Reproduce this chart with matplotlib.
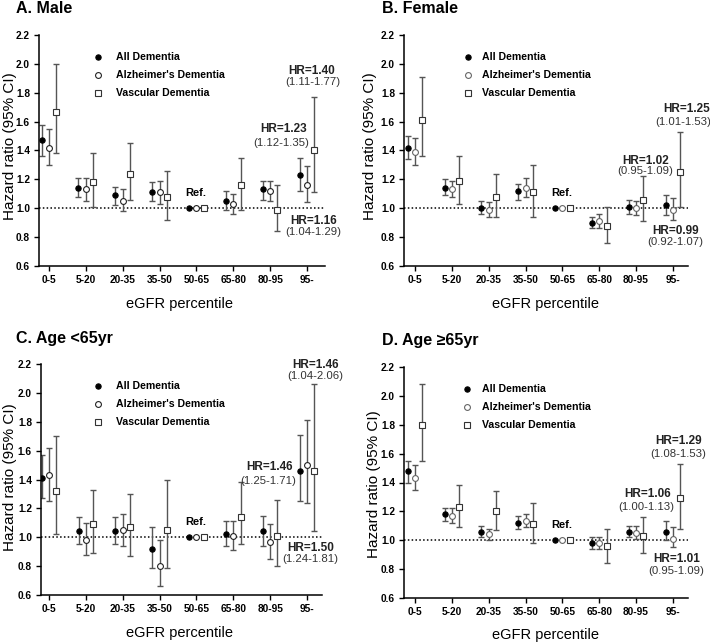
import numpy as np
import matplotlib
matplotlib.use("Agg")
import matplotlib.pyplot as plt

plt.rcParams['font.family'] = ['Liberation Sans', 'DejaVu Sans']

categories = ['0-5', '5-20', '20-35', '35-50', '50-65', '65-80', '80-95', '95-']
series_labels = ['All Dementia', "Alzheimer's Dementia", 'Vascular Dementia']
panel_titles = ['A. Male', 'B. Female', 'C. Age <65yr', 'D. Age \u226565yr']
y_ticks = [0.6, 0.8, 1.0, 1.2, 1.4, 1.6, 1.8, 2.0, 2.2]

# Panel A: Male
a_all_hr = [1.47, 1.14, 1.09, 1.11, 1.00, 1.05, 1.13, 1.23]
a_all_lo = [1.36, 1.08, 1.02, 1.05, 1.00, 0.99, 1.06, 1.12]
a_all_hi = [1.58, 1.21, 1.15, 1.18, 1.00, 1.12, 1.19, 1.35]
a_alz_hr = [1.42, 1.13, 1.05, 1.11, 1.00, 1.03, 1.12, 1.16]
a_alz_lo = [1.30, 1.05, 0.98, 1.03, 1.00, 0.96, 1.05, 1.04]
a_alz_hi = [1.55, 1.21, 1.13, 1.19, 1.00, 1.10, 1.19, 1.29]
a_vas_hr = [1.67, 1.18, 1.24, 1.08, 1.00, 1.16, 0.99, 1.40]
a_vas_lo = [1.38, 1.01, 1.06, 0.92, 1.00, 0.99, 0.84, 1.11]
a_vas_hi = [2.00, 1.38, 1.45, 1.26, 1.00, 1.35, 1.16, 1.77]

# Panel B: Female
b_all_hr = [1.42, 1.14, 1.00, 1.12, 1.00, 0.90, 1.01, 1.02]
b_all_lo = [1.34, 1.09, 0.96, 1.06, 1.00, 0.86, 0.96, 0.95]
b_all_hi = [1.50, 1.20, 1.05, 1.17, 1.00, 0.94, 1.06, 1.09]
b_alz_hr = [1.39, 1.13, 0.99, 1.14, 1.00, 0.91, 1.00, 0.99]
b_alz_lo = [1.30, 1.08, 0.94, 1.08, 1.00, 0.86, 0.95, 0.92]
b_alz_hi = [1.49, 1.19, 1.04, 1.21, 1.00, 0.96, 1.05, 1.07]
b_vas_hr = [1.61, 1.19, 1.08, 1.11, 1.00, 0.88, 1.06, 1.25]
b_vas_lo = [1.36, 1.03, 0.94, 0.94, 1.00, 0.76, 0.91, 1.01]
b_vas_hi = [1.91, 1.36, 1.24, 1.30, 1.00, 1.01, 1.22, 1.53]

# Panel C: Age <65yr
c_all_hr = [1.41, 1.04, 1.04, 0.92, 1.00, 1.02, 1.04, 1.46]
c_all_lo = [1.27, 0.95, 0.95, 0.79, 1.00, 0.94, 0.94, 1.25]
c_all_hi = [1.57, 1.14, 1.14, 1.07, 1.00, 1.11, 1.15, 1.71]
c_alz_hr = [1.43, 0.98, 1.05, 0.80, 1.00, 1.01, 0.97, 1.50]
c_alz_lo = [1.25, 0.88, 0.94, 0.66, 1.00, 0.91, 0.85, 1.24]
c_alz_hi = [1.62, 1.10, 1.16, 0.98, 1.00, 1.11, 1.09, 1.81]
c_vas_hr = [1.32, 1.09, 1.07, 1.05, 1.00, 1.14, 1.01, 1.46]
c_vas_lo = [1.02, 0.89, 0.87, 0.79, 1.00, 0.95, 0.80, 1.04]
c_vas_hi = [1.70, 1.33, 1.30, 1.40, 1.00, 1.38, 1.26, 2.06]

# Panel D: Age >=65yr
d_all_hr = [1.48, 1.18, 1.06, 1.12, 1.00, 0.98, 1.06, 1.06]
d_all_lo = [1.40, 1.13, 1.02, 1.08, 1.00, 0.94, 1.02, 1.00]
d_all_hi = [1.55, 1.22, 1.10, 1.17, 1.00, 1.02, 1.10, 1.13]
d_alz_hr = [1.43, 1.17, 1.04, 1.13, 1.00, 0.98, 1.05, 1.01]
d_alz_lo = [1.35, 1.12, 1.00, 1.09, 1.00, 0.94, 1.01, 0.95]
d_alz_hi = [1.52, 1.22, 1.08, 1.18, 1.00, 1.02, 1.10, 1.09]
d_vas_hr = [1.80, 1.23, 1.20, 1.11, 1.00, 0.96, 1.03, 1.29]
d_vas_lo = [1.55, 1.09, 1.07, 0.98, 1.00, 0.84, 0.91, 1.08]
d_vas_hi = [2.08, 1.38, 1.34, 1.26, 1.00, 1.08, 1.16, 1.53]

panels = [
    dict(all=(a_all_hr, a_all_lo, a_all_hi), alz=(a_alz_hr, a_alz_lo, a_alz_hi), vas=(a_vas_hr, a_vas_lo, a_vas_hi)),
    dict(all=(b_all_hr, b_all_lo, b_all_hi), alz=(b_alz_hr, b_alz_lo, b_alz_hi), vas=(b_vas_hr, b_vas_lo, b_vas_hi)),
    dict(all=(c_all_hr, c_all_lo, c_all_hi), alz=(c_alz_hr, c_alz_lo, c_alz_hi), vas=(c_vas_hr, c_vas_lo, c_vas_hi)),
    dict(all=(d_all_hr, d_all_lo, d_all_hi), alz=(d_alz_hr, d_alz_lo, d_alz_hi), vas=(d_vas_hr, d_vas_lo, d_vas_hi)),
]

W, H = 710, 643
fig = plt.figure(figsize=(W / 100, H / 100), dpi=100)

def px_rect(l, t, r, b):
    return [l / W, 1 - b / H, (r - l) / W, (b - t) / H]

layout = [
    dict(rect=px_rect(39, 35, 325, 266), xlim=(-0.27, 7.49), title=(16, 13), ylab=(10, 146), xlab=(179, 304),
         leg=(0.205, 0.269), alz_edge='#222222',
         ann=[('vas', 7.12, 1.95, 7.17, 1.875), ('all', 6.36, 1.55, 6.31, 1.45), ('alz', 7.17, 0.91, 7.17, 0.835)]),
    dict(rect=px_rect(404, 35, 688, 266), xlim=(-0.30, 7.41), title=(382, 13), ylab=(370, 146), xlab=(546, 304),
         leg=(0.225, 0.274), alz_edge='#666666',
         ann=[('vas', 7.38, 1.69, 7.27, 1.60), ('all', 6.25, 1.33, 6.25, 1.26), ('alz', 7.07, 0.845, 7.07, 0.765)]),
    dict(rect=px_rect(41, 364, 322, 595), xlim=(-0.22, 7.41), title=(16, 343), ylab=(10, 477), xlab=(179, 633),
         leg=(0.203, 0.267), alz_edge='#222222',
         ann=[('vas', 7.23, 2.196, 7.22, 2.117), ('all', 5.99, 1.487, 5.96, 1.39), ('alz', 7.09, 0.926, 7.09, 0.846)]),
    dict(rect=px_rect(404, 367, 688, 598), xlim=(-0.30, 7.41), title=(382, 345), ylab=(374, 484), xlab=(546, 635),
         leg=(0.221, 0.275), alz_edge='#666666',
         ann=[('vas', 7.15, 1.69, 7.15, 1.598), ('all', 6.31, 1.32, 6.28, 1.233), ('alz', 7.11, 0.87, 7.09, 0.79)]),
]

offsets = {'all': -0.2, 'alz': 0.0, 'vas': 0.2}
bar_color = '#555555'

for p, lay, title in zip(panels, layout, panel_titles):
    ax = fig.add_axes(lay['rect'])
    x = np.arange(len(categories))
    ax.axhline(1.0, color='black', lw=1.1, linestyle=(0, (1, 1.5)), zorder=1)

    styles = {
        'all': dict(marker='o', ms=3.8, mfc='black', mec='black', mew=0.8),
        'alz': dict(marker='o', ms=4.2, mfc='white', mec=lay['alz_edge'], mew=0.8),
        'vas': dict(marker='s', ms=4.2, mfc='white', mec='#333333', mew=0.8),
    }
    for key in ['all', 'alz', 'vas']:
        hr, lo, hi = (np.array(v) for v in p[key])
        xs = x + offsets[key]
        m = hi > lo
        ax.errorbar(xs[m], hr[m], yerr=[hr[m] - lo[m], hi[m] - hr[m]], fmt='none',
                    ecolor=bar_color, elinewidth=1.0, capsize=2.4, capthick=1.0, zorder=2)
        ax.plot(xs, hr, linestyle='none', zorder=3, **styles[key])

    # Ref. label over reference category
    ref_idx = categories.index('50-65')
    ax.text(ref_idx - 0.03, 1.105, 'Ref.', ha='center', va='center', fontsize=8, fontweight='bold')

    # HR annotations for the top percentile
    last = len(categories) - 1
    for key, xb, yb, xp, yp in lay['ann']:
        hr, lo, hi = p[key]
        ax.text(xb, yb, f'HR={hr[last]:.2f}', ha='center', va='center', fontsize=8.5,
                fontweight='bold', color='#222222')
        ax.text(xp, yp, f'({lo[last]:.2f}-{hi[last]:.2f})', ha='center', va='center', fontsize=8.2,
                color='#333333')

    # legend
    mx, tx = lay['leg']
    for key, lab, ry in zip(['all', 'alz', 'vas'], series_labels, [0.906, 0.828, 0.750]):
        st = dict(styles[key])
        ax.plot([mx], [ry], transform=ax.transAxes, clip_on=False, linestyle='none', **st)
        ax.text(tx, ry, lab, transform=ax.transAxes, va='center', ha='left', fontsize=7.6,
                fontweight='bold')

    ax.set_xlim(*lay['xlim'])
    ax.set_ylim(0.6, 2.2)
    ax.set_yticks(y_ticks)
    ax.set_yticklabels([f'{t:.1f}' for t in y_ticks])
    ax.set_xticks(x)
    ax.set_xticklabels(categories)
    for s in ['top', 'right']:
        ax.spines[s].set_visible(False)
    for s in ['left', 'bottom']:
        ax.spines[s].set_linewidth(1.1)
    ax.tick_params(axis='both', direction='out', length=3.5, width=1.0, labelsize=7.3, pad=3)
    for lbl in ax.get_xticklabels() + ax.get_yticklabels():
        lbl.set_fontweight('bold')

    fig.text(lay['title'][0] / W, 1 - lay['title'][1] / H, title, fontsize=11.5, fontweight='bold',
             ha='left', va='baseline')
    fig.text(lay['ylab'][0] / W, 1 - lay['ylab'][1] / H, 'Hazard ratio (95% CI)', rotation=90,
             fontsize=11, ha='center', va='center')
    fig.text(lay['xlab'][0] / W, 1 - lay['xlab'][1] / H, 'eGFR percentile', fontsize=10.5,
             ha='center', va='center')

fig.savefig('out.png', dpi=100, facecolor='white')
